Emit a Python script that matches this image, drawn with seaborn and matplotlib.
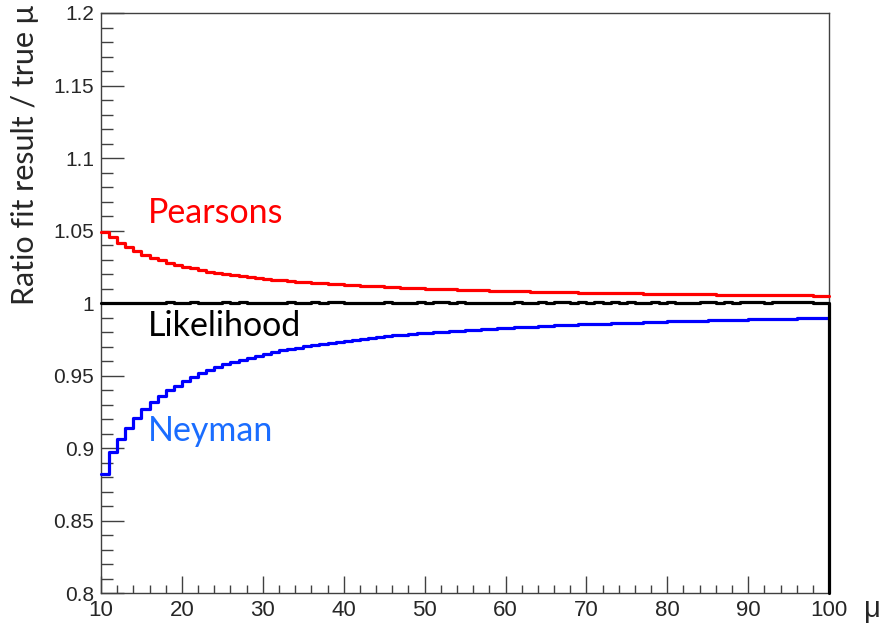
import numpy as np
import matplotlib
matplotlib.use("Agg")
import matplotlib.pyplot as plt
from matplotlib.ticker import MultipleLocator, FuncFormatter
import pandas as pd
import seaborn as sns

# lower bin edges (bin width 1, last edge at 100)
mu_low = list(range(10, 100))
mu_max = 100

pearsons = [
    1.0490, 1.0455, 1.0417, 1.0385, 1.0357, 1.0333, 1.0313, 1.0294, 1.0278, 1.0263,
    1.0250, 1.0238, 1.0227, 1.0217, 1.0208, 1.0200, 1.0192, 1.0185, 1.0179, 1.0172,
    1.0167, 1.0161, 1.0156, 1.0152, 1.0147, 1.0143, 1.0139, 1.0135, 1.0132, 1.0128,
    1.0125, 1.0122, 1.0119, 1.0116, 1.0114, 1.0111, 1.0109, 1.0106, 1.0104, 1.0102,
    1.0100, 1.0098, 1.0096, 1.0094, 1.0093, 1.0091, 1.0089, 1.0088, 1.0086, 1.0085,
    1.0083, 1.0082, 1.0081, 1.0079, 1.0078, 1.0077, 1.0076, 1.0075, 1.0074, 1.0072,
    1.0071, 1.0070, 1.0069, 1.0068, 1.0068, 1.0067, 1.0066, 1.0065, 1.0064, 1.0063,
    1.0063, 1.0062, 1.0061, 1.0060, 1.0060, 1.0059, 1.0058, 1.0057, 1.0057, 1.0056,
    1.0056, 1.0055, 1.0054, 1.0054, 1.0053, 1.0053, 1.0052, 1.0052, 1.0051, 1.0051,
]

neyman = [
    0.8820, 0.8970, 0.9065, 0.9140, 0.9210, 0.9270, 0.9320, 0.9360, 0.9400, 0.9430,
    0.9460, 0.9490, 0.9514, 0.9537, 0.9557, 0.9576, 0.9593, 0.9609, 0.9624, 0.9637,
    0.9650, 0.9661, 0.9673, 0.9683, 0.9693, 0.9702, 0.9710, 0.9719, 0.9727, 0.9734,
    0.9741, 0.9747, 0.9753, 0.9759, 0.9765, 0.9771, 0.9776, 0.9780, 0.9785, 0.9790,
    0.9794, 0.9798, 0.9802, 0.9806, 0.9810, 0.9813, 0.9816, 0.9820, 0.9824, 0.9827,
    0.9829, 0.9832, 0.9835, 0.9837, 0.9840, 0.9842, 0.9845, 0.9848, 0.9850, 0.9852,
    0.9854, 0.9856, 0.9858, 0.9860, 0.9862, 0.9864, 0.9865, 0.9867, 0.9870, 0.9871,
    0.9873, 0.9875, 0.9876, 0.9878, 0.9879, 0.9880, 0.9882, 0.9883, 0.9884, 0.9886,
    0.9887, 0.9888, 0.9889, 0.9890, 0.9892, 0.9893, 0.9894, 0.9895, 0.9896, 0.9897,
]

likelihood = [
    1.0000, 0.9998, 1.0000, 1.0000, 1.0001, 0.9999, 1.0000, 1.0000, 1.0006, 1.0000,
    1.0000, 1.0006, 1.0000, 0.9999, 1.0000, 1.0006, 1.0000, 1.0006, 1.0000, 1.0000,
    1.0000, 1.0000, 1.0000, 1.0006, 1.0000, 1.0000, 1.0006, 1.0000, 1.0006, 1.0006,
    1.0000, 1.0000, 1.0000, 1.0000, 1.0000, 1.0006, 1.0000, 1.0000, 1.0000, 1.0006,
    1.0000, 1.0006, 1.0006, 1.0000, 1.0006, 1.0000, 1.0000, 1.0000, 1.0000, 1.0000,
    1.0000, 1.0006, 1.0000, 1.0000, 1.0006, 1.0000, 1.0006, 1.0006, 1.0000, 1.0006,
    1.0000, 1.0006, 1.0000, 1.0006, 1.0000, 1.0006, 1.0000, 1.0000, 1.0006, 1.0000,
    1.0006, 1.0000, 1.0000, 1.0000, 1.0006, 1.0006, 1.0000, 1.0006, 1.0000, 1.0006,
    1.0006, 1.0006, 1.0000, 1.0006, 1.0006, 1.0006, 1.0006, 1.0006, 1.0000, 1.0000,
]

methods = ["Pearsons", "Neyman", "Likelihood"]
line_colors = {"Pearsons": "#ff0000", "Neyman": "#0000ff", "Likelihood": "#000000"}
text_colors = {"Pearsons": "#ff0000", "Neyman": "#1a6dff", "Likelihood": "#000000"}

y_min, y_max = 0.8, 1.2


def hist_frame(name, values, drop=False):
    # step-post histogram outline: repeat last value at upper edge
    x = mu_low + [mu_max]
    y = list(values) + [values[-1]]
    if drop:
        x.append(mu_max)
        y.append(y_min)
    return pd.DataFrame({"mu": x, "ratio": y, "method": name})


df = pd.concat([
    hist_frame("Pearsons", pearsons),
    hist_frame("Neyman", neyman),
    hist_frame("Likelihood", likelihood, drop=True),
], ignore_index=True)

sns.set_style("white")
plt.rcParams["font.family"] = ["Liberation Sans", "DejaVu Sans"]

fig = plt.figure(figsize=(8.87, 6.28), dpi=100)
ax = fig.add_axes([0.1139, 0.0557, 0.8208, 0.9236])

sns.lineplot(data=df, x="mu", y="ratio", hue="method", hue_order=methods,
             palette=line_colors, estimator=None, sort=False,
             drawstyle="steps-post", linewidth=2.3, legend=False, ax=ax)
for ln in ax.lines:
    ln.set_clip_on(False)
    ln.set_zorder(3)

ax.set_xlim(10, 100)
ax.set_ylim(y_min, y_max)

frame_col = "#404040"
for side in ["left", "bottom", "top", "right"]:
    ax.spines[side].set_visible(True)
    ax.spines[side].set_color(frame_col)
    ax.spines[side].set_linewidth(1.0)
    ax.spines[side].set_zorder(1)

ax.xaxis.set_major_locator(MultipleLocator(10))
ax.xaxis.set_minor_locator(MultipleLocator(2))
ax.yaxis.set_major_locator(MultipleLocator(0.05))
ax.yaxis.set_minor_locator(MultipleLocator(0.01))
ax.yaxis.set_major_formatter(FuncFormatter(lambda v, p: f"{v:g}"))

ax.tick_params(axis="x", which="major", direction="in", length=12, width=1,
               color=frame_col, labelsize=16, pad=5, bottom=True, top=False)
ax.tick_params(axis="x", which="minor", direction="in", length=6, width=1,
               color=frame_col, bottom=True, top=False)
ax.tick_params(axis="y", which="major", direction="in", length=16.5, width=1,
               color=frame_col, labelsize=15, pad=5, left=True, right=False)
ax.tick_params(axis="y", which="minor", direction="in", length=8.5, width=1,
               color=frame_col, left=True, right=False)

ax.set_ylabel("Ratio fit result / true μ", fontsize=22, family=["Lato", "DejaVu Sans"],
              loc="top")
ax.yaxis.set_label_coords(-0.085, 1.014)
ax.set_xlabel("μ", fontsize=21, va="baseline")
ax.xaxis.set_label_coords(1.059, -0.0415)

label_pos = {"Pearsons": (15.8, 1.0555), "Likelihood": (15.8, 0.9772), "Neyman": (15.8, 0.9045)}
for name in methods:
    ax.text(label_pos[name][0], label_pos[name][1], name, color=text_colors[name],
            fontsize=24.5, family=["Lato", "DejaVu Sans"], ha="left", va="baseline")

fig.savefig("out.png", dpi=100)
